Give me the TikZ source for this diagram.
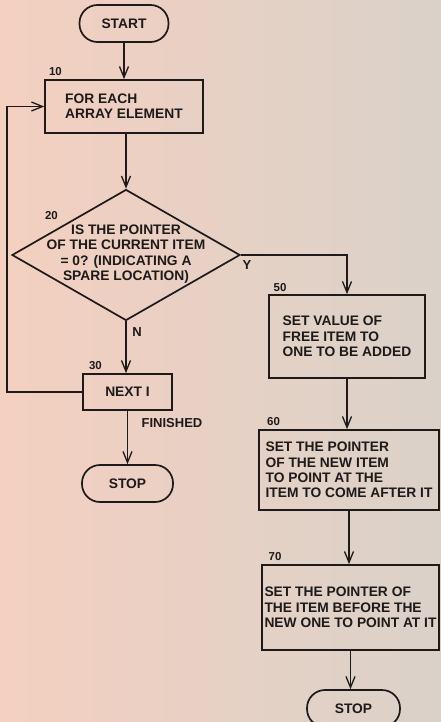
\documentclass[tikz,border=0pt]{standalone}
\usepackage{fontspec}
\setmainfont{Liberation Sans}
\usetikzlibrary{arrows.meta,shapes.geometric}
\definecolor{ink}{RGB}{30,26,26}
\definecolor{bgl}{RGB}{244,208,192}
\definecolor{bgr}{RGB}{218,209,201}
\begin{document}
\begin{tikzpicture}[x=1pt,y=-1pt,
  every node/.style={font=\fontsize{13.8}{15.3}\selectfont\bfseries, text=ink},
  box/.style={draw=ink, line width=1.7pt, align=left, inner xsep=2pt, inner ysep=0pt},
  term/.style={draw=ink, line width=1.7pt, rounded corners=18pt, inner sep=0pt},
  num/.style={font=\fontsize{11.5}{13}\selectfont\bfseries},
  lbl/.style={font=\fontsize{13}{14}\selectfont\bfseries},
  flow/.style={draw=ink, line width=1.3pt, -{Straight Barb[length=11pt,width=9pt]}},
]
\fill[left color=bgl, right color=bgr] (0,0) rectangle (441,722);
\useasboundingbox (0,0) rectangle (441,722);

\node[term, minimum width=89pt, minimum height=37pt] (start) at (124,23.5) {START};
\node[box, minimum width=158pt, minimum height=53pt] (b10) at (124,106.5) {FOR EACH\\ARRAY ELEMENT};
\node[num] (n10) at (55.5,72) {10};
\node[diamond, draw=ink, line width=1.7pt, minimum width=228pt, minimum height=131pt, inner sep=0pt] (d20) at (126,255) {};
\node[align=center] (t20) at (126,254) {IS THE POINTER\\OF THE CURRENT ITEM\\= 0? (INDICATING A\\SPARE LOCATION)};
\node[num] (n20) at (51.5,216) {20};
\node[box, minimum width=89pt, minimum height=36pt] (b30) at (127.5,392) {NEXT I};
\node[num] (n30) at (95.5,365.5) {30};
\node[term, minimum width=91pt, minimum height=37pt] (stop1) at (127.5,483.5) {STOP};
\node[lbl] (fin) at (172,423) {FINISHED};
\node[lbl] (ly) at (247,265) {Y};
\node[lbl] (ln) at (137,332) {N};

\node[box, minimum width=156pt, minimum height=83pt] (b50) at (347,336.5) {SET VALUE OF\\FREE ITEM TO\\ONE TO BE ADDED};
\node[num] (n50) at (280,287.5) {50};
\node[box, minimum width=180pt, minimum height=80pt] (b60) at (349,470) {SET THE POINTER\\OF THE NEW ITEM\\TO POINT AT THE\\ITEM TO COME AFTER IT};
\node[num] (n60) at (273.5,422) {60};
\node[box, minimum width=177pt, minimum height=85pt] (b70) at (350.5,607.5) {SET THE POINTER OF\\THE ITEM BEFORE THE\\NEW ONE TO POINT AT IT};
\node[num] (n70) at (275,556.5) {70};
\node[term, minimum width=93pt, minimum height=37pt] (stop2) at (353.5,708.5) {STOP};

\draw[flow] (start.south) -- (b10.north);
\draw[flow] (d20.north |- b10.south) -- (d20.north);
\draw[flow] (d20.south) -- (d20.south |- b30.north);
\draw[flow] (b30.south) -- (stop1.north);
\coordinate (lp) at (7,392);
\draw[flow] (b30.west) -- (lp) |- (b10.west);
\draw[flow] (d20.east) -| (b50.north);
\draw[flow] (b50.south) -- (b50.south |- b60.north);
\draw[flow] (b60.south) -- (b60.south |- b70.north);
\draw[flow] (b70.south) -- (b70.south |- stop2.north);
\end{tikzpicture}
\end{document}
